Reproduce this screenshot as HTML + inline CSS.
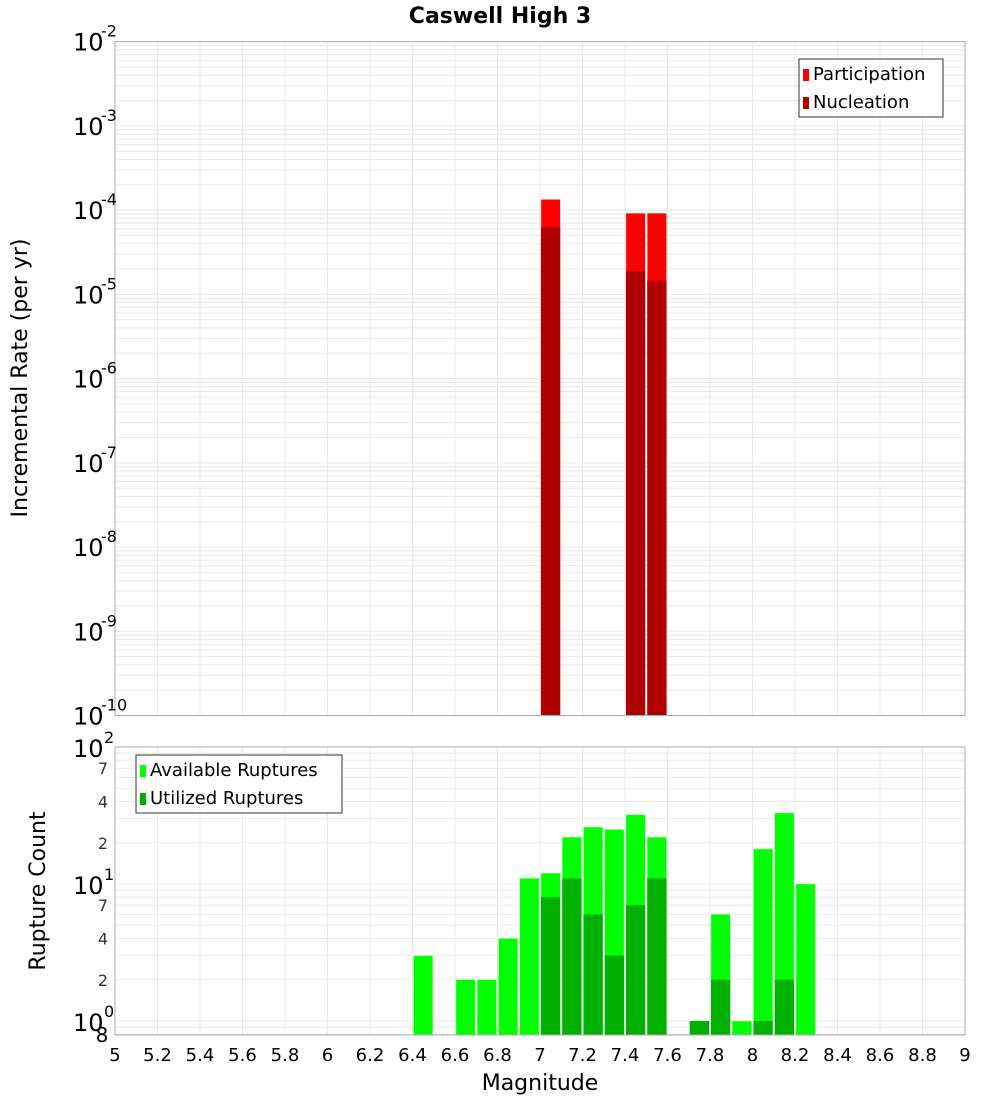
<!DOCTYPE html>
<html><head><meta charset="utf-8"><style>
body{margin:0;background:#fff;font-family:"DejaVu Sans","Liberation Sans",sans-serif}
svg text{font-family:"DejaVu Sans","Liberation Sans",sans-serif}
</style></head><body>
<svg id="c" width="1000" height="1100" xmlns="http://www.w3.org/2000/svg">
<text x="500" y="23" text-anchor="middle" font-size="22" font-weight="bold">Caswell High 3</text>
<g id="topPanel"></g>
<g id="botPanel"></g>
<text transform="translate(27,378) rotate(-90)" text-anchor="middle" font-size="22">Incremental Rate (per yr)</text>
<text transform="translate(45,891) rotate(-90)" text-anchor="middle" font-size="22">Rupture Count</text>
<text x="540" y="1090" text-anchor="middle" font-size="22">Magnitude</text>
</svg>
<script>
const rateMags=[7.0,7.4,7.5];
const participation=[1.34e-4,9.2e-5,9.2e-5];
const nucleation=[6.25e-5,1.89e-5,1.45e-5];
const countMags=[6.4,6.6,6.7,6.8,6.9,7.0,7.1,7.2,7.3,7.4,7.5,7.7,7.8,7.9,8.0,8.1,8.2];
const available=[3,2,2,4,11,12,22,26,25,32,22,1,6,1,18,33,10];
const utilized=[0,0,0,0,0,8,11,6,3,7,11,1,2,0,1,2,0];
const xTicks=["5","5.2","5.4","5.6","5.8","6","6.2","6.4","6.6","6.8","7","7.2","7.4","7.6","7.8","8","8.2","8.4","8.6","8.8","9"];

const NS="http://www.w3.org/2000/svg";
function mk(p,t,a){const e=document.createElementNS(NS,t);for(const k in a)e.setAttribute(k,a[k]);p.appendChild(e);return e;}
const X0=115,X1=965;
const xs=m=>X0+(m-5)/4*(X1-X0);
const T0=41.7,T1=715.5;
const yt=v=>T0+(-2-Math.log10(v))/8*(T1-T0);
const B0=747,B1=1035,BPD=137;
const yb=v=>B0+(2-Math.log10(v))*BPD;

const topG=document.getElementById('topPanel'),botG=document.getElementById('botPanel');
function grid(g,y0,y1,yf,dmin,dmax,vmin){
  for(let d=dmin;d<dmax;d++)for(let k=1;k<10;k++){const v=k*Math.pow(10,d);if(v<vmin)continue;const y=yf(v);if(y<y0-0.5||y>y1)continue;
    const l=mk(g,'line',{x1:X0,x2:X1,y1:y,y2:y,stroke:'#e8e8e8','stroke-width':1});
    
    }
  for(let i=0;i<xTicks.length;i++){const x=xs(+xTicks[i]);
    const l=mk(g,'line',{x1:x,x2:x,y1:y0,y2:y1,stroke:'#e8e8e8','stroke-width':1});
    
    }
}
grid(topG,T0,T1,yt,-10,-2,1e-10);
grid(botG,B0,B1,yb,-1,2,0.8);

for(let i=0;i<rateMags.length;i++){
  const x=xs(rateMags[i])+1,w=xs(rateMags[i]+0.1)-xs(rateMags[i])-2;
  let r=mk(topG,'rect',{x:x,y:yt(participation[i]),width:w,height:T1-yt(participation[i]),fill:'#ff0000',stroke:'#ffb0b0','stroke-width':0.5});
  
  
  r=mk(topG,'rect',{x:x,y:yt(nucleation[i]),width:w,height:T1-yt(nucleation[i]),fill:'#b00000'});
  
  
}
for(let i=0;i<countMags.length;i++){
  const x=xs(countMags[i])+1,w=xs(countMags[i]+0.1)-xs(countMags[i])-2;
  let r=mk(botG,'rect',{x:x,y:yb(available[i]),width:w,height:B1-yb(available[i]),fill:'#00ff00',stroke:'#a0ffa0','stroke-width':0.5});
  
  
  if(utilized[i]>0){r=mk(botG,'rect',{x:x,y:yb(utilized[i]),width:w,height:B1-yb(utilized[i]),fill:'#00b000'});
  
  }
}
let fr=mk(topG,'rect',{x:X0,y:T0,width:X1-X0,height:T1-T0,fill:'none',stroke:'#aaa'});


fr=mk(botG,'rect',{x:X0,y:B0,width:X1-X0,height:B1-B0,fill:'none',stroke:'#aaa'});



for(let d=-10;d<=-2;d++){const y=yt(Math.pow(10,d));
  const t=mk(topG,'text',{x:73,y:y+9,'font-size':24});t.textContent='10';
  
  
  const s=mk(topG,'text',{x:101,y:y-5,'font-size':16});s.textContent=String(d);
  
  }
for(let d=0;d<=2;d++){const y=yb(Math.pow(10,d));
  const t=mk(botG,'text',{x:73,y:y+10,'font-size':24});t.textContent='10';
  
  
  const s=mk(botG,'text',{x:104,y:y-4,'font-size':16});s.textContent=String(d);
  
  }
const minor=[2,4,7];
for(let d=0;d<2;d++)for(const k of minor){const y=yb(k*Math.pow(10,d));
  const t=mk(botG,'text',{x:108,y:y+6,'font-size':16,'text-anchor':'end',fill:'#333'});t.textContent=String(k);
  
  }
let e8=mk(botG,'text',{x:102,y:1042,'font-size':20,'text-anchor':'middle'});e8.textContent='8';


for(let i=0;i<xTicks.length;i++){
  const t=mk(botG,'text',{x:xs(+xTicks[i]),y:1061,'font-size':18,'text-anchor':'middle'});t.textContent=xTicks[i];
  
  }

function legend(g,x,y,w,items,name){
  const lg=mk(g,'g',{});
  
  
  mk(lg,'rect',{x:x,y:y,width:w,height:58,fill:'#fff',stroke:'#333'});
  items.forEach((it,i)=>{
    mk(lg,'rect',{x:x+4,y:y+10+i*28,width:6,height:12,fill:it[1]});
    const t=mk(lg,'text',{x:x+14,y:y+21+i*28,'font-size':18});t.textContent=it[0];
    
    
  });
}
legend(topG,799,59,144,[['Participation','#ff0000'],['Nucleation','#b00000']],'rate-legend');
legend(botG,136,755,206,[['Available Ruptures','#00ff00'],['Utilized Ruptures','#00b000']],'count-legend');
</script>
</body></html>
